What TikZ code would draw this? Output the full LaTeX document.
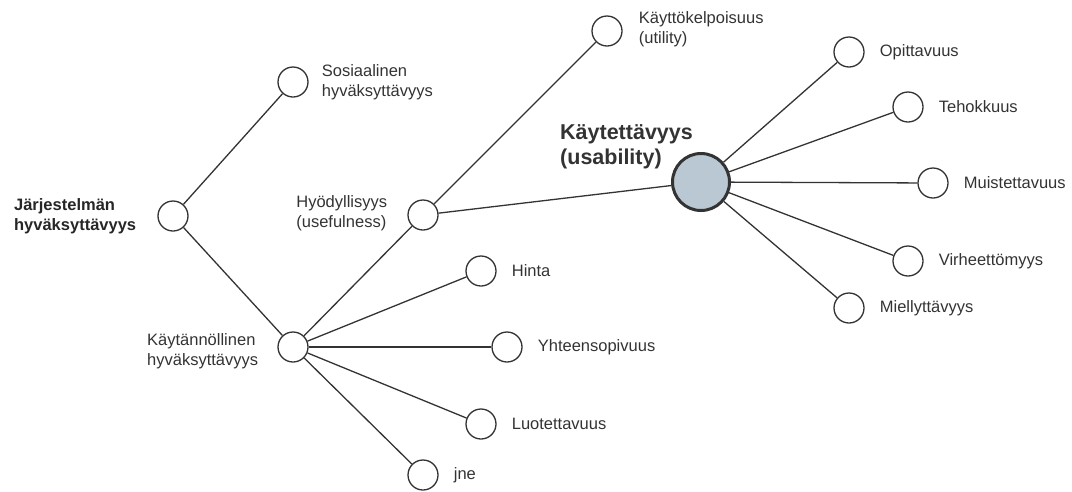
\documentclass[tikz,border=0pt]{standalone}
\usepackage{fontspec}
\setmainfont{Liberation Sans}
\usetikzlibrary{positioning}
\definecolor{linegray}{HTML}{333333}
\definecolor{textgray}{HTML}{333333}
\definecolor{usabfill}{HTML}{BAC8D3}

\begin{document}
\begin{tikzpicture}[x=1pt, y=-1pt,
    dot/.style={circle, draw=linegray, line width=1.3pt, fill=white, minimum size=30pt, inner sep=0pt},
    bigdot/.style={circle, draw=linegray, line width=3pt, fill=usabfill, minimum size=57pt, inner sep=0pt},
    lab/.style={text=textgray, inner sep=0pt, align=left, font=\fontsize{16.5}{19.5}\selectfont},
    boldlab/.style={lab, text=black!85, font=\fontsize{16.5}{19.5}\selectfont\bfseries},
    biglab/.style={lab, font=\fontsize{21.5}{25}\selectfont\bfseries},
    link/.style={draw=linegray, line width=1.3pt}]
        \useasboundingbox (0,0) rectangle (1072,491);
        % Circles
        \node[dot] (root) at (173,216) {};
        \node[dot] (sos) at (293,82) {};
        \node[dot] (kaytan) at (293,347) {};
        \node[dot] (hyod) at (423,215) {};
        \node[dot] (utility) at (607,31) {};
        \node[bigdot] (usab) at (701,182) {};
        \node[dot] (opit) at (849,52) {};
        \node[dot] (teho) at (908,107) {};
        \node[dot] (muist) at (933,183) {};
        \node[dot] (virhe) at (908,261) {};
        \node[dot] (miel) at (849,308) {};
        \node[dot] (hinta) at (481,271) {};
        \node[dot] (yhteen) at (507,347) {};
        \node[dot] (luot) at (481,424) {};
        \node[dot] (jne) at (423,475) {};
        % Links
        \draw[link] (root) -- (sos);
        \draw[link] (root) -- (kaytan);
        \draw[link] (kaytan) -- (hyod);
        \draw[link] (kaytan) -- (hinta);
        \draw[link] (kaytan) -- (yhteen);
        \draw[link] (kaytan) -- (luot);
        \draw[link] (kaytan) -- (jne);
        \draw[link] (hyod) -- (utility);
        \draw[link] (hyod) -- (usab);
        \foreach \n in {opit, teho, muist, virhe, miel}
            \draw[link] (usab) -- (\n);
        % Labels
        \node[boldlab, left=21pt of root] (root-t) {Järjestelmän\\hyväksyttävyys};
        \node[lab, right=13pt of sos] (sos-t) {Sosiaalinen\\hyväksyttävyys};
        \node[lab, left=19pt of kaytan, yshift=-4pt] (kaytan-t) {Käytännöllinen\\hyväksyttävyys};
        \node[lab, left=20pt of hyod, yshift=2pt] (hyod-t) {Hyödyllisyys\\(usefulness)};
        \node[lab, right=16pt of utility, yshift=2pt] (utility-t) {Käyttökelpoisuus\\(utility)};
        \node[biglab, anchor=west] (usab-t) at (560,147) {Käytettävyys\\(usability)};
        \node[lab, right=15pt of opit] (opit-t) {Opittavuus};
        \node[lab, right=15pt of teho] (teho-t) {Tehokkuus};
        \node[lab, right=15pt of muist] (muist-t) {Muistettavuus};
        \node[lab, right=15pt of virhe] (virhe-t) {Virheettömyys};
        \node[lab, right=15pt of miel] (miel-t) {Miellyttävyys};
        \node[lab, right=15pt of hinta] (hinta-t) {Hinta};
        \node[lab, right=15pt of yhteen] (yhteen-t) {Yhteensopivuus};
        \node[lab, right=15pt of luot] (luot-t) {Luotettavuus};
        \node[lab, right=15pt of jne] (jne-t) {jne};
    \end{tikzpicture}
\end{document}
